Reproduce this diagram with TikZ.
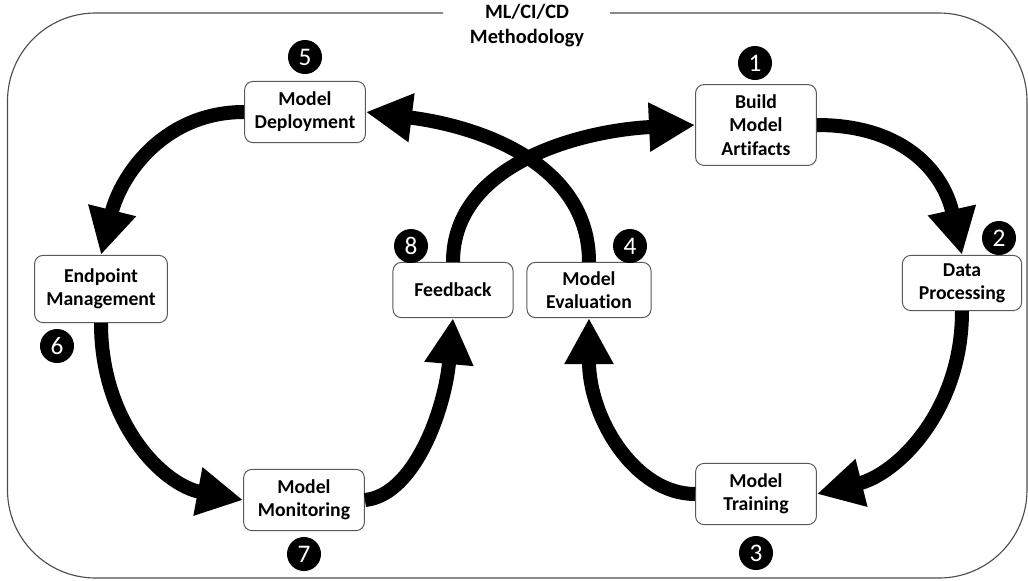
\documentclass[tikz,border=0pt]{standalone}
\usepackage{fontspec}
\setmainfont{Carlito}[Ligatures=NoCommon]
\usetikzlibrary{arrows.meta}

\begin{document}
\begin{tikzpicture}[x=0.025cm, y=-0.025cm,
	stage/.style={draw=black!65, line width=0.7pt, rounded corners=6pt, fill=white, align=center, inner sep=2pt, font=\fontsize{14}{16.5}\selectfont\bfseries, minimum width=3.02cm, minimum height=1.53cm},
	badge/.style={circle, fill=black, text=white, inner sep=0pt, minimum size=0.85cm, font=\fontsize{18}{18}\selectfont},
	flow/.style={line width=0.35cm, -{Triangle[length=1.15cm, width=1.15cm]}}]
	\useasboundingbox (0,0) rectangle (1028,580);
	% outer frame, open at the top for the title
	\draw[black!70, line width=0.8pt, rounded corners=2.2cm] (443,13) -- (7.5,13) -- (7.5,578) -- (1027,578) -- (1027,13) -- (610,13);
	\node[font=\fontsize{14.5}{17.5}\selectfont\bfseries, align=center] (title) at (527,25.5) {ML/CI/CD\\Methodology};
	% stages of the loop
	\node[stage, minimum height=2.02cm] (build) at (756,125) {Build\\Model\\Artifacts};
	\node[stage, minimum width=2.98cm, minimum height=1.38cm] (data) at (962,283) {Data\\Processing};
	\node[stage] (training) at (756,494) {Model\\Training};
	\node[stage, minimum width=3.1cm, minimum height=1.38cm] (evaluation) at (589,290) {Model\\Evaluation};
	\node[stage, minimum width=3cm, minimum height=1.38cm] (feedback) at (453,290) {Feedback};
	\node[stage] (deployment) at (305,112) {Model\\Deployment};
	\node[stage, minimum width=3.32cm, minimum height=1.68cm] (endpoint) at (101,289) {Endpoint\\Management};
	\node[stage] (monitoring) at (304,500) {Model\\Monitoring};
	% step numbers
	\foreach \n/\x/\y in {1/755/63, 2/999/238, 3/756/553, 4/630/246, 5/305/57, 6/57/346, 7/304/554, 8/411/246} {\node[badge] (n\n) at (\x,\y) {\n};}
	% arrows, right loop then left loop
	\draw[flow] (build.east) .. controls +(90,0) and +(-18,-80) .. (data.north);
	\draw[flow] (data.south) .. controls +(0,100) and +(80,-20) .. (training.east);
	\draw[flow] (training.west) .. controls +(-60,0) and +(0,100) .. (evaluation.south);
	\draw[flow] (evaluation.north) .. controls +(0,-95) and +(120,15) .. (deployment.east);
	\draw[flow] (deployment.west) .. controls +(-80,0) and +(20,-80) .. (endpoint.north);
	\draw[flow] (endpoint.south) .. controls +(0,100) and +(-80,-15) .. (monitoring.west);
	\draw[flow] (monitoring.east) .. controls +(50,-5) and +(-8,90) .. (feedback.south);
	\draw[flow] (feedback.north) .. controls +(0,-100) and +(-110,5) .. (build.west);
\end{tikzpicture}
\end{document}
